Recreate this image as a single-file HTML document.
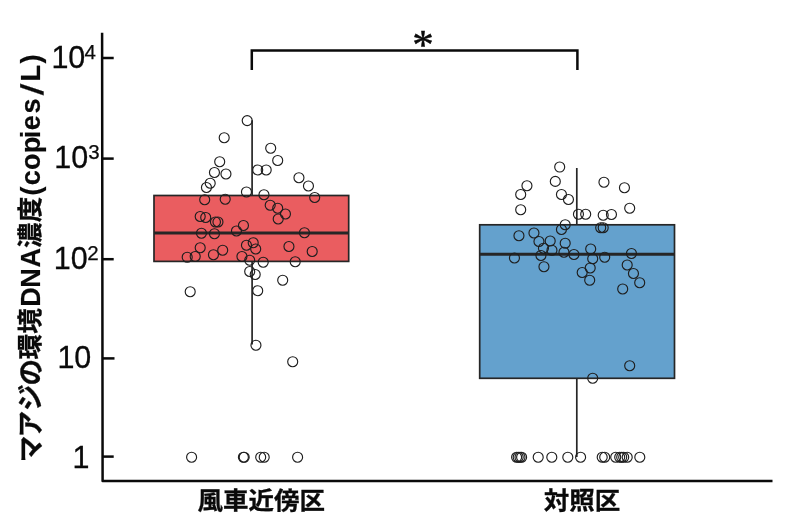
<!DOCTYPE html>
<html lang="ja">
<head>
<meta charset="utf-8">
<title>マアジの環境DNA濃度</title>
<style>
html,body{margin:0;padding:0;background:#fff;}
body{width:800px;height:531px;overflow:hidden;}
svg{display:block;}
.num{font-family:"Liberation Sans",sans-serif;font-size:30.5px;fill:#0a0a0a;stroke:#0a0a0a;stroke-width:0.3px;}
.sup{font-family:"Liberation Sans",sans-serif;font-size:20.5px;fill:#0a0a0a;stroke:#0a0a0a;stroke-width:0.25px;}
.lab{font-family:"Liberation Sans","Noto Sans CJK JP",sans-serif;font-weight:bold;font-size:25.5px;fill:#0a0a0a;stroke:#0a0a0a;stroke-width:0.3px;}
.lat{font-family:"Liberation Sans","Noto Sans CJK JP",sans-serif;font-weight:bold;font-size:27px;fill:#0a0a0a;stroke:#0a0a0a;stroke-width:0.2px;}
.star{font-family:"Liberation Serif",serif;font-size:43px;fill:#0a0a0a;stroke:#0a0a0a;stroke-width:0.5px;}
</style>
</head>
<body>
<svg width="800" height="531" viewBox="0 0 800 531">
<rect width="800" height="531" fill="#ffffff"/>
<!-- box plots -->
<g stroke="#262626" stroke-width="1.7">
<line x1="252.1" y1="120.3" x2="252.1" y2="344.5"/>
<line x1="576.8" y1="168.1" x2="576.8" y2="457"/>
<rect x="154" y="195.5" width="194.7" height="65.9" fill="#ea5d60"/>
<rect x="479.7" y="224.8" width="194.8" height="153.5" fill="#64a1cd"/>
<line x1="154" y1="233" x2="348.7" y2="233" stroke-width="3"/>
<line x1="479.7" y1="254.3" x2="674.5" y2="254.3" stroke-width="3"/>
</g>
<!-- data points -->
<g fill="none" stroke="#1e1e1e" stroke-width="1.15">
<circle cx="247.2" cy="120.6" r="5"/>
<circle cx="224.2" cy="137.7" r="5"/>
<circle cx="270.7" cy="148.2" r="5"/>
<circle cx="277.7" cy="160.45" r="5"/>
<circle cx="219.7" cy="161.7" r="5"/>
<circle cx="257.7" cy="169.95" r="5"/>
<circle cx="266.2" cy="169.95" r="5"/>
<circle cx="214.45" cy="172.45" r="5"/>
<circle cx="225.95" cy="173.95" r="5"/>
<circle cx="298.95" cy="177.7" r="5"/>
<circle cx="210.2" cy="183.2" r="5"/>
<circle cx="206.45" cy="187.45" r="5"/>
<circle cx="308.45" cy="185.95" r="5"/>
<circle cx="246.45" cy="191.95" r="5"/>
<circle cx="263.95" cy="194.7" r="5"/>
<circle cx="314.7" cy="197.45" r="5"/>
<circle cx="204.7" cy="199.7" r="5"/>
<circle cx="225.2" cy="199.2" r="5"/>
<circle cx="270.2" cy="205.2" r="5"/>
<circle cx="277.7" cy="208.2" r="5"/>
<circle cx="285.45" cy="213.95" r="5"/>
<circle cx="278.2" cy="218.95" r="5"/>
<circle cx="200.2" cy="216.45" r="5"/>
<circle cx="205.7" cy="217.45" r="5"/>
<circle cx="215.45" cy="221.95" r="5"/>
<circle cx="217.95" cy="221.95" r="5"/>
<circle cx="243.45" cy="225.45" r="5"/>
<circle cx="236.45" cy="230.95" r="5"/>
<circle cx="201.45" cy="233.2" r="5"/>
<circle cx="214.45" cy="233.7" r="5"/>
<circle cx="304.45" cy="232.7" r="5"/>
<circle cx="246.45" cy="245.2" r="5"/>
<circle cx="253.2" cy="242.7" r="5"/>
<circle cx="255.7" cy="248.95" r="5"/>
<circle cx="288.95" cy="246.45" r="5"/>
<circle cx="200.2" cy="247.7" r="5"/>
<circle cx="222.7" cy="250.2" r="5"/>
<circle cx="312.2" cy="251.45" r="5"/>
<circle cx="213.45" cy="254.7" r="5"/>
<circle cx="187.2" cy="257.2" r="5"/>
<circle cx="195.2" cy="256.45" r="5"/>
<circle cx="241.95" cy="256.45" r="5"/>
<circle cx="249.7" cy="260.2" r="5"/>
<circle cx="263.2" cy="262.2" r="5"/>
<circle cx="295.2" cy="261.7" r="5"/>
<circle cx="249.7" cy="271.45" r="5"/>
<circle cx="255.2" cy="274.45" r="5"/>
<circle cx="282.7" cy="280.2" r="5"/>
<circle cx="190.2" cy="291.7" r="5"/>
<circle cx="257.7" cy="290.7" r="5"/>
<circle cx="255.95" cy="345.2" r="5"/>
<circle cx="292.7" cy="361.7" r="5"/>
<circle cx="191.6" cy="457.2" r="5"/>
<circle cx="243.4" cy="457.2" r="5"/>
<circle cx="244.2" cy="457.2" r="5"/>
<circle cx="260.7" cy="457.2" r="5"/>
<circle cx="264.2" cy="457.2" r="5"/>
<circle cx="297.6" cy="457.2" r="5"/>
<circle cx="559.7" cy="167" r="5"/>
<circle cx="555.3" cy="181.4" r="5"/>
<circle cx="603.95" cy="182.2" r="5"/>
<circle cx="526.95" cy="185.7" r="5"/>
<circle cx="624.45" cy="187.7" r="5"/>
<circle cx="520.7" cy="194.45" r="5"/>
<circle cx="561.45" cy="194.45" r="5"/>
<circle cx="568.45" cy="199.45" r="5"/>
<circle cx="520.7" cy="209.7" r="5"/>
<circle cx="629.7" cy="208.2" r="5"/>
<circle cx="578.45" cy="214.2" r="5"/>
<circle cx="585.7" cy="214.2" r="5"/>
<circle cx="603.2" cy="215.2" r="5"/>
<circle cx="611.45" cy="214.45" r="5"/>
<circle cx="565.2" cy="224.7" r="5"/>
<circle cx="561.45" cy="229.45" r="5"/>
<circle cx="600.7" cy="227.7" r="5"/>
<circle cx="603.2" cy="227.7" r="5"/>
<circle cx="518.95" cy="235.7" r="5"/>
<circle cx="533.95" cy="232.95" r="5"/>
<circle cx="538.95" cy="241.45" r="5"/>
<circle cx="550.2" cy="240.95" r="5"/>
<circle cx="565.2" cy="243.2" r="5"/>
<circle cx="543.45" cy="248.2" r="5"/>
<circle cx="551.95" cy="250.2" r="5"/>
<circle cx="563.95" cy="252.2" r="5"/>
<circle cx="590.7" cy="248.95" r="5"/>
<circle cx="540.95" cy="255.45" r="5"/>
<circle cx="573.95" cy="254.45" r="5"/>
<circle cx="514.45" cy="257.95" r="5"/>
<circle cx="592.7" cy="258.7" r="5"/>
<circle cx="604.7" cy="257.2" r="5"/>
<circle cx="631.45" cy="253.45" r="5"/>
<circle cx="543.95" cy="266.7" r="5"/>
<circle cx="590.2" cy="267.95" r="5"/>
<circle cx="627.2" cy="264.95" r="5"/>
<circle cx="582.2" cy="272.45" r="5"/>
<circle cx="589.7" cy="280.2" r="5"/>
<circle cx="633.45" cy="273.45" r="5"/>
<circle cx="639.7" cy="282.7" r="5"/>
<circle cx="622.7" cy="288.95" r="5"/>
<circle cx="629.7" cy="365.7" r="5"/>
<circle cx="592.7" cy="378.2" r="5"/>
<circle cx="516.6" cy="457.2" r="5"/>
<circle cx="518.2" cy="457.2" r="5"/>
<circle cx="520.0" cy="457.2" r="5"/>
<circle cx="521.6" cy="457.2" r="5"/>
<circle cx="538.2" cy="457.2" r="5"/>
<circle cx="551.8" cy="457.2" r="5"/>
<circle cx="567.8" cy="457.2" r="5"/>
<circle cx="580.6" cy="457.2" r="5"/>
<circle cx="602.2" cy="457.2" r="5"/>
<circle cx="604.7" cy="457.2" r="5"/>
<circle cx="615.7" cy="457.2" r="5"/>
<circle cx="619.7" cy="457.2" r="5"/>
<circle cx="621.7" cy="457.2" r="5"/>
<circle cx="623.7" cy="457.2" r="5"/>
<circle cx="627.2" cy="457.2" r="5"/>
<circle cx="639.8" cy="457.2" r="5"/>
</g>
<!-- axes -->
<g stroke="#0a0a0a" stroke-width="2.5" fill="none" stroke-linejoin="round">
<path d="M102.1 32.8 L102.6 480.9 H772.5"/>
<line x1="102.3" y1="58" x2="113.7" y2="58"/>
<line x1="102.3" y1="158.6" x2="113.7" y2="158.6"/>
<line x1="102.3" y1="259.2" x2="113.7" y2="259.2"/>
<line x1="102.3" y1="358.4" x2="114.5" y2="358.4"/>
<line x1="102.3" y1="456.6" x2="113.7" y2="456.6"/>
<path d="M251.8 70 V50.6 H577.4 V70" stroke-linejoin="miter"/>
</g>
<!-- tick labels -->
<text class="num" x="51.4" y="67.9">10</text><text class="sup" x="84.5" y="58.9">4</text>
<text class="num" x="54.3" y="167.75">10</text><text class="sup" x="88.2" y="158.7">3</text>
<text class="num" x="53.7" y="268.6">10</text><text class="sup" x="87.3" y="259.6">2</text>
<text class="num" x="57.4" y="367.6">10</text>
<text class="num" x="72.4" y="467.5">1</text>
<text class="star" x="423" y="59" text-anchor="middle">*</text>
<!-- x labels -->
<text class="lab" transform="translate(261.2 508.7) scale(1 0.94)" text-anchor="middle">風車近傍区</text>
<text class="lab" transform="translate(581.9 508.7) scale(1 0.94)" text-anchor="middle">対照区</text>
<!-- y label -->
<g transform="translate(40.5 461.0) rotate(-90)"><text class="lab" y="-1.5" x="-1.2 23.85 50.2 75.6 101.55 127.25"><tspan style="font-size:26.5px" dy="0.6">マアジの</tspan><tspan dy="-0.6">環境</tspan></text><text class="lat" y="-0.8" x="154.25 173.25 193.5">DNA</text><text class="lab" y="-1.5" x="213.0 238.85">濃度</text><text class="lat" y="-0.8" x="265.5 275.75 291.0 307.75 322.75 330.65 347.5">(copies</text><text class="lat" style="font-size:31.5px" text-anchor="middle" transform="translate(369.95 2.8) skewX(-8.4)">/</text><text class="lat" y="-0.8" x="379.5 397.5">L)</text></g>
</svg>
</body>
</html>
